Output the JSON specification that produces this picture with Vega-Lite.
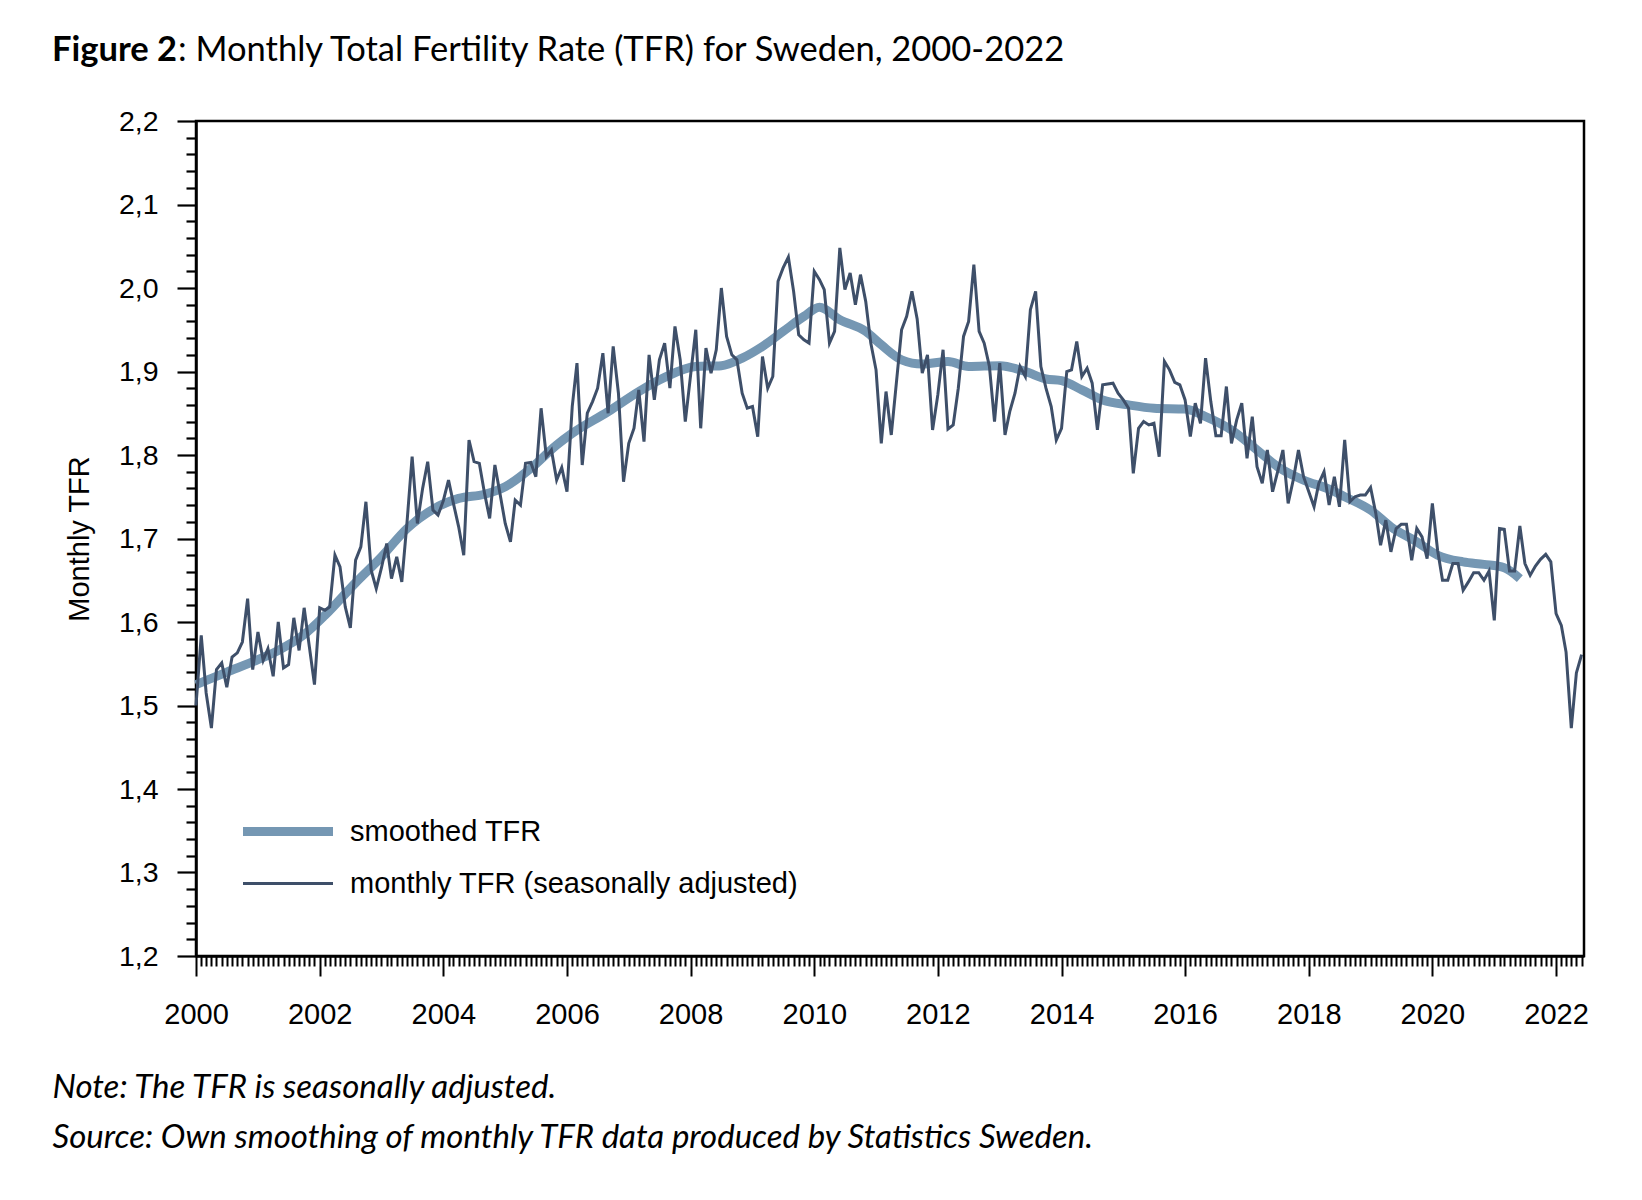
{
  "$schema": "https://vega.github.io/schema/vega-lite/v6.json",
  "width": 1388,
  "height": 835,
  "autosize": {"type": "none"},
  "padding": {"left": 196, "top": 121, "right": 58, "bottom": 244},
  "background": "white",
  "title": {
    "text": "Figure 2",
    "subtitle": ": Monthly Total Fertility Rate (TFR) for Sweden, 2000-2022",
    "anchor": "start",
    "frame": "group",
    "dx": -144,
    "offset": 12,
    "baseline": "alphabetic",
    "font": "Lato",
    "fontSize": 34.5,
    "fontWeight": "bold",
    "color": "black",
    "subtitleFont": "Lato",
    "subtitleFontSize": 34.5,
    "subtitleFontWeight": "normal",
    "subtitleColor": "black",
    "subtitlePadding": -34.5,
    "encode": {"subtitle": {"update": {"dx": {"value": -18}}}}
  },
  "config": {
    "font": "Liberation Sans",
    "view": {"stroke": "black", "strokeWidth": 2.5},
    "axis": {"grid": false, "domainColor": "black", "domainWidth": 2.5, "tickColor": "black", "tickWidth": 2.2, "labelColor": "black", "titleColor": "black"}
  },
  "datasets": {
    "monthly": [
      {"d": "2000-01-01", "v": 1.500}, {"d": "2000-02-01", "v": 1.584}, {"d": "2000-03-01", "v": 1.515}, {"d": "2000-04-01", "v": 1.473},
      {"d": "2000-05-01", "v": 1.543}, {"d": "2000-06-01", "v": 1.551}, {"d": "2000-07-01", "v": 1.522}, {"d": "2000-08-01", "v": 1.558},
      {"d": "2000-09-01", "v": 1.563}, {"d": "2000-10-01", "v": 1.576}, {"d": "2000-11-01", "v": 1.628}, {"d": "2000-12-01", "v": 1.543},
      {"d": "2001-01-01", "v": 1.588}, {"d": "2001-02-01", "v": 1.554}, {"d": "2001-03-01", "v": 1.568}, {"d": "2001-04-01", "v": 1.535},
      {"d": "2001-05-01", "v": 1.600}, {"d": "2001-06-01", "v": 1.545}, {"d": "2001-07-01", "v": 1.549}, {"d": "2001-08-01", "v": 1.605},
      {"d": "2001-09-01", "v": 1.566}, {"d": "2001-10-01", "v": 1.617}, {"d": "2001-11-01", "v": 1.570}, {"d": "2001-12-01", "v": 1.525},
      {"d": "2002-01-01", "v": 1.617}, {"d": "2002-02-01", "v": 1.614}, {"d": "2002-03-01", "v": 1.618}, {"d": "2002-04-01", "v": 1.680},
      {"d": "2002-05-01", "v": 1.666}, {"d": "2002-06-01", "v": 1.618}, {"d": "2002-07-01", "v": 1.593}, {"d": "2002-08-01", "v": 1.674},
      {"d": "2002-09-01", "v": 1.690}, {"d": "2002-10-01", "v": 1.744}, {"d": "2002-11-01", "v": 1.662}, {"d": "2002-12-01", "v": 1.640},
      {"d": "2003-01-01", "v": 1.665}, {"d": "2003-02-01", "v": 1.694}, {"d": "2003-03-01", "v": 1.652}, {"d": "2003-04-01", "v": 1.678},
      {"d": "2003-05-01", "v": 1.648}, {"d": "2003-06-01", "v": 1.720}, {"d": "2003-07-01", "v": 1.798}, {"d": "2003-08-01", "v": 1.718},
      {"d": "2003-09-01", "v": 1.760}, {"d": "2003-10-01", "v": 1.792}, {"d": "2003-11-01", "v": 1.734}, {"d": "2003-12-01", "v": 1.728},
      {"d": "2004-01-01", "v": 1.745}, {"d": "2004-02-01", "v": 1.770}, {"d": "2004-03-01", "v": 1.742}, {"d": "2004-04-01", "v": 1.714},
      {"d": "2004-05-01", "v": 1.680}, {"d": "2004-06-01", "v": 1.818}, {"d": "2004-07-01", "v": 1.792}, {"d": "2004-08-01", "v": 1.790},
      {"d": "2004-09-01", "v": 1.754}, {"d": "2004-10-01", "v": 1.724}, {"d": "2004-11-01", "v": 1.788}, {"d": "2004-12-01", "v": 1.754},
      {"d": "2005-01-01", "v": 1.718}, {"d": "2005-02-01", "v": 1.696}, {"d": "2005-03-01", "v": 1.746}, {"d": "2005-04-01", "v": 1.740},
      {"d": "2005-05-01", "v": 1.790}, {"d": "2005-06-01", "v": 1.791}, {"d": "2005-07-01", "v": 1.774}, {"d": "2005-08-01", "v": 1.856},
      {"d": "2005-09-01", "v": 1.798}, {"d": "2005-10-01", "v": 1.806}, {"d": "2005-11-01", "v": 1.770}, {"d": "2005-12-01", "v": 1.785},
      {"d": "2006-01-01", "v": 1.756}, {"d": "2006-02-01", "v": 1.858}, {"d": "2006-03-01", "v": 1.910}, {"d": "2006-04-01", "v": 1.788},
      {"d": "2006-05-01", "v": 1.850}, {"d": "2006-06-01", "v": 1.864}, {"d": "2006-07-01", "v": 1.880}, {"d": "2006-08-01", "v": 1.922},
      {"d": "2006-09-01", "v": 1.850}, {"d": "2006-10-01", "v": 1.930}, {"d": "2006-11-01", "v": 1.874}, {"d": "2006-12-01", "v": 1.768},
      {"d": "2007-01-01", "v": 1.814}, {"d": "2007-02-01", "v": 1.832}, {"d": "2007-03-01", "v": 1.878}, {"d": "2007-04-01", "v": 1.816},
      {"d": "2007-05-01", "v": 1.920}, {"d": "2007-06-01", "v": 1.866}, {"d": "2007-07-01", "v": 1.914}, {"d": "2007-08-01", "v": 1.934},
      {"d": "2007-09-01", "v": 1.880}, {"d": "2007-10-01", "v": 1.954}, {"d": "2007-11-01", "v": 1.914}, {"d": "2007-12-01", "v": 1.840},
      {"d": "2008-01-01", "v": 1.895}, {"d": "2008-02-01", "v": 1.950}, {"d": "2008-03-01", "v": 1.832}, {"d": "2008-04-01", "v": 1.928},
      {"d": "2008-05-01", "v": 1.898}, {"d": "2008-06-01", "v": 1.926}, {"d": "2008-07-01", "v": 2.000}, {"d": "2008-08-01", "v": 1.942},
      {"d": "2008-09-01", "v": 1.920}, {"d": "2008-10-01", "v": 1.914}, {"d": "2008-11-01", "v": 1.874}, {"d": "2008-12-01", "v": 1.856},
      {"d": "2009-01-01", "v": 1.858}, {"d": "2009-02-01", "v": 1.822}, {"d": "2009-03-01", "v": 1.918}, {"d": "2009-04-01", "v": 1.880},
      {"d": "2009-05-01", "v": 1.894}, {"d": "2009-06-01", "v": 2.008}, {"d": "2009-07-01", "v": 2.024}, {"d": "2009-08-01", "v": 2.037},
      {"d": "2009-09-01", "v": 1.996}, {"d": "2009-10-01", "v": 1.944}, {"d": "2009-11-01", "v": 1.938}, {"d": "2009-12-01", "v": 1.934},
      {"d": "2010-01-01", "v": 2.020}, {"d": "2010-02-01", "v": 2.010}, {"d": "2010-03-01", "v": 1.998}, {"d": "2010-04-01", "v": 1.934},
      {"d": "2010-05-01", "v": 1.948}, {"d": "2010-06-01", "v": 2.048}, {"d": "2010-07-01", "v": 1.998}, {"d": "2010-08-01", "v": 2.018},
      {"d": "2010-09-01", "v": 1.980}, {"d": "2010-10-01", "v": 2.016}, {"d": "2010-11-01", "v": 1.984}, {"d": "2010-12-01", "v": 1.934},
      {"d": "2011-01-01", "v": 1.902}, {"d": "2011-02-01", "v": 1.814}, {"d": "2011-03-01", "v": 1.876}, {"d": "2011-04-01", "v": 1.824},
      {"d": "2011-05-01", "v": 1.886}, {"d": "2011-06-01", "v": 1.950}, {"d": "2011-07-01", "v": 1.966}, {"d": "2011-08-01", "v": 1.996},
      {"d": "2011-09-01", "v": 1.963}, {"d": "2011-10-01", "v": 1.898}, {"d": "2011-11-01", "v": 1.920}, {"d": "2011-12-01", "v": 1.830},
      {"d": "2012-01-01", "v": 1.872}, {"d": "2012-02-01", "v": 1.926}, {"d": "2012-03-01", "v": 1.831}, {"d": "2012-04-01", "v": 1.836},
      {"d": "2012-05-01", "v": 1.880}, {"d": "2012-06-01", "v": 1.942}, {"d": "2012-07-01", "v": 1.960}, {"d": "2012-08-01", "v": 2.028},
      {"d": "2012-09-01", "v": 1.948}, {"d": "2012-10-01", "v": 1.934}, {"d": "2012-11-01", "v": 1.906}, {"d": "2012-12-01", "v": 1.840},
      {"d": "2013-01-01", "v": 1.910}, {"d": "2013-02-01", "v": 1.824}, {"d": "2013-03-01", "v": 1.852}, {"d": "2013-04-01", "v": 1.874},
      {"d": "2013-05-01", "v": 1.906}, {"d": "2013-06-01", "v": 1.894}, {"d": "2013-07-01", "v": 1.974}, {"d": "2013-08-01", "v": 1.996},
      {"d": "2013-09-01", "v": 1.906}, {"d": "2013-10-01", "v": 1.880}, {"d": "2013-11-01", "v": 1.858}, {"d": "2013-12-01", "v": 1.818},
      {"d": "2014-01-01", "v": 1.832}, {"d": "2014-02-01", "v": 1.900}, {"d": "2014-03-01", "v": 1.902}, {"d": "2014-04-01", "v": 1.936},
      {"d": "2014-05-01", "v": 1.894}, {"d": "2014-06-01", "v": 1.904}, {"d": "2014-07-01", "v": 1.886}, {"d": "2014-08-01", "v": 1.830},
      {"d": "2014-09-01", "v": 1.884}, {"d": "2014-10-01", "v": 1.885}, {"d": "2014-11-01", "v": 1.886}, {"d": "2014-12-01", "v": 1.874},
      {"d": "2015-01-01", "v": 1.866}, {"d": "2015-02-01", "v": 1.856}, {"d": "2015-03-01", "v": 1.778}, {"d": "2015-04-01", "v": 1.832},
      {"d": "2015-05-01", "v": 1.840}, {"d": "2015-06-01", "v": 1.836}, {"d": "2015-07-01", "v": 1.838}, {"d": "2015-08-01", "v": 1.798},
      {"d": "2015-09-01", "v": 1.912}, {"d": "2015-10-01", "v": 1.902}, {"d": "2015-11-01", "v": 1.887}, {"d": "2015-12-01", "v": 1.884},
      {"d": "2016-01-01", "v": 1.866}, {"d": "2016-02-01", "v": 1.822}, {"d": "2016-03-01", "v": 1.862}, {"d": "2016-04-01", "v": 1.838},
      {"d": "2016-05-01", "v": 1.916}, {"d": "2016-06-01", "v": 1.864}, {"d": "2016-07-01", "v": 1.823}, {"d": "2016-08-01", "v": 1.823},
      {"d": "2016-09-01", "v": 1.882}, {"d": "2016-10-01", "v": 1.814}, {"d": "2016-11-01", "v": 1.842}, {"d": "2016-12-01", "v": 1.862},
      {"d": "2017-01-01", "v": 1.796}, {"d": "2017-02-01", "v": 1.846}, {"d": "2017-03-01", "v": 1.786}, {"d": "2017-04-01", "v": 1.766},
      {"d": "2017-05-01", "v": 1.806}, {"d": "2017-06-01", "v": 1.756}, {"d": "2017-07-01", "v": 1.780}, {"d": "2017-08-01", "v": 1.806},
      {"d": "2017-09-01", "v": 1.742}, {"d": "2017-10-01", "v": 1.770}, {"d": "2017-11-01", "v": 1.806}, {"d": "2017-12-01", "v": 1.774},
      {"d": "2018-01-01", "v": 1.756}, {"d": "2018-02-01", "v": 1.738}, {"d": "2018-03-01", "v": 1.766}, {"d": "2018-04-01", "v": 1.780},
      {"d": "2018-05-01", "v": 1.740}, {"d": "2018-06-01", "v": 1.774}, {"d": "2018-07-01", "v": 1.738}, {"d": "2018-08-01", "v": 1.818},
      {"d": "2018-09-01", "v": 1.744}, {"d": "2018-10-01", "v": 1.750}, {"d": "2018-11-01", "v": 1.752}, {"d": "2018-12-01", "v": 1.752},
      {"d": "2019-01-01", "v": 1.761}, {"d": "2019-02-01", "v": 1.730}, {"d": "2019-03-01", "v": 1.692}, {"d": "2019-04-01", "v": 1.722},
      {"d": "2019-05-01", "v": 1.684}, {"d": "2019-06-01", "v": 1.712}, {"d": "2019-07-01", "v": 1.717}, {"d": "2019-08-01", "v": 1.717},
      {"d": "2019-09-01", "v": 1.674}, {"d": "2019-10-01", "v": 1.712}, {"d": "2019-11-01", "v": 1.702}, {"d": "2019-12-01", "v": 1.676},
      {"d": "2020-01-01", "v": 1.742}, {"d": "2020-02-01", "v": 1.686}, {"d": "2020-03-01", "v": 1.650}, {"d": "2020-04-01", "v": 1.650},
      {"d": "2020-05-01", "v": 1.670}, {"d": "2020-06-01", "v": 1.670}, {"d": "2020-07-01", "v": 1.638}, {"d": "2020-08-01", "v": 1.648},
      {"d": "2020-09-01", "v": 1.659}, {"d": "2020-10-01", "v": 1.659}, {"d": "2020-11-01", "v": 1.650}, {"d": "2020-12-01", "v": 1.661},
      {"d": "2021-01-01", "v": 1.602}, {"d": "2021-02-01", "v": 1.712}, {"d": "2021-03-01", "v": 1.711}, {"d": "2021-04-01", "v": 1.661},
      {"d": "2021-05-01", "v": 1.661}, {"d": "2021-06-01", "v": 1.715}, {"d": "2021-07-01", "v": 1.670}, {"d": "2021-08-01", "v": 1.656},
      {"d": "2021-09-01", "v": 1.667}, {"d": "2021-10-01", "v": 1.675}, {"d": "2021-11-01", "v": 1.681}, {"d": "2021-12-01", "v": 1.672},
      {"d": "2022-01-01", "v": 1.610}, {"d": "2022-02-01", "v": 1.596}, {"d": "2022-03-01", "v": 1.564}, {"d": "2022-04-01", "v": 1.473},
      {"d": "2022-05-01", "v": 1.539}, {"d": "2022-06-01", "v": 1.561}
    ],
    "smooth": [
      {"d": "2000-01-01", "v": 1.525}, {"d": "2000-07-01", "v": 1.540}, {"d": "2001-01-01", "v": 1.555}, {"d": "2001-05-01", "v": 1.566},
      {"d": "2001-10-01", "v": 1.585}, {"d": "2002-02-01", "v": 1.608}, {"d": "2002-08-01", "v": 1.647}, {"d": "2003-01-01", "v": 1.678},
      {"d": "2003-06-01", "v": 1.712}, {"d": "2003-11-01", "v": 1.735}, {"d": "2004-04-01", "v": 1.748}, {"d": "2004-09-01", "v": 1.753},
      {"d": "2005-01-01", "v": 1.762}, {"d": "2005-06-01", "v": 1.784}, {"d": "2005-11-01", "v": 1.812}, {"d": "2006-02-01", "v": 1.826},
      {"d": "2006-09-01", "v": 1.852}, {"d": "2007-03-01", "v": 1.876}, {"d": "2007-08-01", "v": 1.893}, {"d": "2008-02-01", "v": 1.906},
      {"d": "2008-07-01", "v": 1.907}, {"d": "2008-11-01", "v": 1.916}, {"d": "2009-03-01", "v": 1.930}, {"d": "2009-07-01", "v": 1.948},
      {"d": "2009-11-01", "v": 1.966}, {"d": "2010-02-01", "v": 1.977}, {"d": "2010-06-01", "v": 1.962}, {"d": "2010-11-01", "v": 1.948},
      {"d": "2011-02-01", "v": 1.932}, {"d": "2011-06-01", "v": 1.914}, {"d": "2011-10-01", "v": 1.909}, {"d": "2012-03-01", "v": 1.912},
      {"d": "2012-07-01", "v": 1.906}, {"d": "2013-01-01", "v": 1.907}, {"d": "2013-06-01", "v": 1.900}, {"d": "2013-10-01", "v": 1.891},
      {"d": "2014-01-01", "v": 1.889}, {"d": "2014-05-01", "v": 1.878}, {"d": "2014-09-01", "v": 1.866}, {"d": "2015-02-01", "v": 1.860},
      {"d": "2015-07-01", "v": 1.856}, {"d": "2016-01-01", "v": 1.855}, {"d": "2016-05-01", "v": 1.846}, {"d": "2016-10-01", "v": 1.830},
      {"d": "2017-03-01", "v": 1.806}, {"d": "2017-07-01", "v": 1.786}, {"d": "2017-12-01", "v": 1.770}, {"d": "2018-05-01", "v": 1.759},
      {"d": "2018-08-01", "v": 1.750}, {"d": "2019-01-01", "v": 1.734}, {"d": "2019-05-01", "v": 1.714}, {"d": "2019-10-01", "v": 1.696},
      {"d": "2020-02-01", "v": 1.680}, {"d": "2020-07-01", "v": 1.672}, {"d": "2020-11-01", "v": 1.669}, {"d": "2021-03-01", "v": 1.665},
      {"d": "2021-06-01", "v": 1.652}
    ]
  },
  "encoding": {
    "x": {
      "field": "d",
      "type": "temporal",
      "scale": {
        "type": "utc",
        "domain": [{"year": 2000, "month": 1, "date": 1, "utc": true}, {"year": 2022, "month": 6, "date": 15, "utc": true}]
      },
      "axis": {
        "tickCount": {"interval": "month", "step": 1},
        "labelExpr": "utcmonth(datum.value) == 0 && utcyear(datum.value) % 2 == 0 ? utcFormat(datum.value, '%Y') : ''",
        "tickSize": {"condition": {"test": "utcmonth(datum.value) == 0 && utcyear(datum.value) % 2 == 0", "value": 20}, "value": 10},
        "tickWidth": 2,
        "labelFont": "Liberation Sans",
        "labelFontSize": 29,
        "labelPadding": 24,
        "labelOverlap": false,
        "labelBound": false,
        "labelFlush": false,
        "labelBaseline": "top",
        "title": ["Note: The TFR is seasonally adjusted.", "Source: Own smoothing of monthly TFR data produced by Statistics Sweden."],
        "titleFont": "Lato",
        "titleFontStyle": "italic",
        "titleFontWeight": "normal",
        "titleFontSize": 33,
        "titleAlign": "left",
        "titleBaseline": "alphabetic",
        "titleX": -144,
        "titleY": 141,
        "titleLineHeight": 50
      }
    },
    "y": {
      "field": "v",
      "type": "quantitative",
      "scale": {"domain": [1.2, 2.2], "zero": false, "nice": false},
      "axis": {
        "values": [1.2, 1.22, 1.24, 1.26, 1.28, 1.3, 1.32, 1.34, 1.36, 1.38, 1.4, 1.42, 1.44, 1.46, 1.48, 1.5, 1.52, 1.54, 1.56, 1.58, 1.6, 1.62, 1.64, 1.66, 1.68, 1.7, 1.72, 1.74, 1.76, 1.78, 1.8, 1.82, 1.84, 1.86, 1.88, 1.9, 1.92, 1.94, 1.96, 1.98, 2.0, 2.02, 2.04, 2.06, 2.08, 2.1, 2.12, 2.14, 2.16, 2.18, 2.2],
        "labelExpr": "abs(datum.value*10 - round(datum.value*10)) < 0.001 ? replace(format(datum.value, '.1f'), '.', ',') : ''",
        "tickSize": {"condition": {"test": "abs(datum.value*10 - round(datum.value*10)) < 0.001", "value": 19}, "value": 10},
        "labelFont": "Liberation Sans",
        "labelFontSize": 28.5,
        "labelPadding": 19,
        "labelOverlap": false,
        "labelBound": false,
        "labelFlush": false,
        "title": "Monthly TFR",
        "titleFont": "Liberation Sans",
        "titleFontSize": 29,
        "titleFontWeight": "normal",
        "titlePadding": 24
      }
    }
  },
  "layer": [
    {
      "data": {"name": "smooth"},
      "mark": {"type": "line", "interpolate": "monotone", "strokeWidth": 9, "strokeCap": "butt"},
      "encoding": {
        "color": {
          "datum": "smoothed TFR",
          "type": "nominal",
          "scale": {"domain": ["smoothed TFR", "monthly TFR (seasonally adjusted)"], "range": ["#7597b3", "#3e4f69"]},
          "legend": {
            "title": null,
            "orient": "none",
            "legendX": 47,
            "legendY": 696,
            "padding": 0,
            "symbolType": "stroke",
            "symbolSize": 8100,
            "labelFont": "Liberation Sans",
            "labelFontSize": 29,
            "labelColor": "black",
            "labelLimit": 800,
            "labelOffset": 17,
            "rowPadding": 19,
            "encode": {
              "symbols": {"update": {"strokeWidth": {"signal": "datum.value === 'smoothed TFR' ? 9 : 3"}, "size": {"value": 8100}, "x": {"value": 45}}},
              "labels": {"update": {"x": {"value": 107}}}
            }
          }
        }
      }
    },
    {
      "data": {"name": "monthly"},
      "mark": {"type": "line", "strokeWidth": 3, "strokeJoin": "miter"},
      "encoding": {
        "color": {"datum": "monthly TFR (seasonally adjusted)", "type": "nominal"}
      }
    }
  ]
}
